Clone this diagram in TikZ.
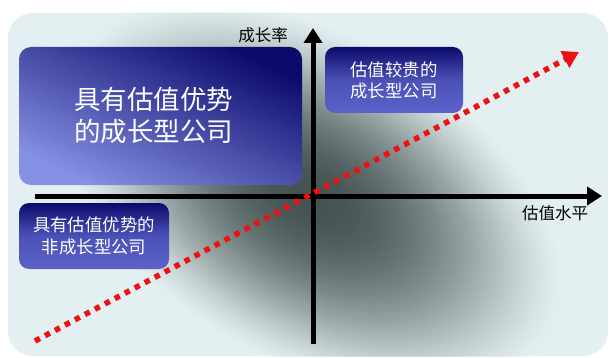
\documentclass[tikz,border=0pt]{standalone}
\usepackage{fontspec}
\setmainfont{Noto Sans CJK SC}
\usetikzlibrary{arrows.meta}
\definecolor{bgl}{HTML}{E3EFF0}
\definecolor{bgd}{HTML}{445252}
\definecolor{navy}{HTML}{0B0B6B}
\definecolor{peri}{HTML}{8690E4}
\definecolor{peri2}{HTML}{5B62C9}
\definecolor{axred}{HTML}{EE1111}
\begin{document}
\begin{tikzpicture}[x=1pt,y=-1pt,
  box/.style={rounded corners=#1, inner sep=0pt, text=white, align=center},
  axis/.style={line width=5pt, -{Triangle[length=15pt,width=18pt]}},
  lab/.style={font=\fontsize{16.5}{18}\selectfont, inner sep=0pt}]
\useasboundingbox (0,0) rectangle (612,358);
\fill[white] (0,0) rectangle (612,358);
\begin{scope}
\clip[rounded corners=25pt] (8,13) rectangle (608,356);
\fill[bgl] (8,13) rectangle (608,356);
\foreach \i in {0,...,79}{
  \pgfmathsetmacro\s{1-\i/80}
  \pgfmathsetmacro\p{100*(1-\s^2)^1.5}
  \fill[bgd!\p!bgl, rotate around={-30:(310,198)}] (310,198) ellipse [x radius=\s*280pt, y radius=\s*165pt];
}
\end{scope}
% boxes
\node[box=12pt, top color=navy, bottom color=peri, shading angle=-25, minimum width=283pt, minimum height=138pt,
  font=\fontsize{26.5}{32}\selectfont] (g1) at (160.5,116) {\hspace*{-14pt}具有估值优势\\\hspace*{-14pt}的成长型公司};
\node[box=10pt, top color=navy, bottom color=peri2, middle color=peri2!80!navy, minimum width=138pt, minimum height=66pt,
  font=\fontsize{17.4}{21}\selectfont] (g2) at (394,80) {估值较贵的\\成长型公司};
\node[box=10pt, top color=navy, bottom color=peri2, middle color=peri2!80!navy, minimum width=150pt, minimum height=66pt,
  font=\fontsize{17.4}{22}\selectfont] (g3) at (94,236) {具有估值优势的\\非成长型公司};
% axes
\coordinate (xa) at (35,196);
\coordinate (xb) at (602,196);
\coordinate (ya) at (313,344);
\coordinate (yb) at (313,28);
\draw[axis] (xa) -- (xb);
\draw[axis] (ya) -- (yb);
% red trend line
\coordinate (ra) at (35,341);
\coordinate (rb) at (579,52);
\draw[axred, line width=5.5pt, dash pattern=on 5.5pt off 5.8pt, -{Triangle[length=16pt,width=18pt]}] (ra) -- (rb);
% labels
\node[lab] (ly) at (263,35) {成长率};
\node[lab] (lx) at (555,213) {估值水平};
\end{tikzpicture}
\end{document}
